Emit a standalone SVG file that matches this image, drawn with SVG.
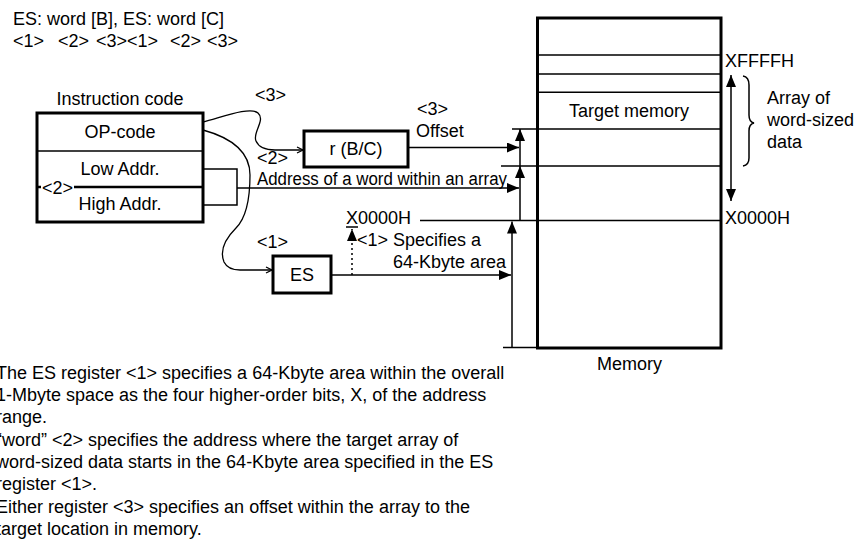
<svg xmlns="http://www.w3.org/2000/svg" width="858" height="542" viewBox="0 0 858 542">
<defs>
<style>
text { font-family: "Liberation Sans", Arial, sans-serif; font-size: 18px; fill: #000; }
.c { text-anchor: middle; }
.box { fill: #fff; stroke: #000; stroke-width: 3; }
.ln { fill: none; stroke: #000; stroke-width: 1.5; }
.thk { fill: none; stroke: #000; stroke-width: 2.5; }
.arr { fill: none; stroke: #000; stroke-width: 1.5; marker-end: url(#ah); }
.crv { fill: none; stroke: #000; stroke-width: 1.3; marker-end: url(#oh); }
</style>
<marker id="ah" markerUnits="userSpaceOnUse" markerWidth="12" markerHeight="10" refX="12" refY="5" orient="auto-start-reverse" viewBox="0 0 12 10"><path d="M0,0 L12,5 L0,10 z" fill="#000"/></marker>
<marker id="oh" markerUnits="userSpaceOnUse" markerWidth="8" markerHeight="8" refX="7" refY="4" orient="auto" viewBox="0 0 8 8"><path d="M1,1 L7,4 L1,7" fill="none" stroke="#000" stroke-width="1.3"/></marker>
</defs>
<rect x="0" y="0" width="858" height="542" fill="#fff"/>

<g id="header">
<text x="13" y="25">ES: word [B], ES: word [C]</text>
<text x="13" y="47">&lt;1&gt;</text>
<text x="58" y="47">&lt;2&gt;</text>
<text x="96" y="47">&lt;3&gt;</text>
<text x="127" y="47">&lt;1&gt;</text>
<text x="170" y="47">&lt;2&gt;</text>
<text x="207" y="47">&lt;3&gt;</text>
</g>

<g id="instruction-code">
<text class="c" x="120" y="105">Instruction code</text>
<rect class="box" x="37" y="113" width="166" height="109"/>
<path class="ln" d="M37,151 L203,151"/>
<path class="thk" d="M37,187 L41,187 M74,187 L203,187"/>
<text class="c" x="120" y="138">OP-code</text>
<text class="c" x="120" y="175">Low Addr.</text>
<text class="c" x="120" y="210">High Addr.</text>
<text x="42" y="193.5">&lt;2&gt;</text>
</g>

<g id="reg-bc">
<rect class="box" x="304" y="131" width="104" height="36"/>
<text class="c" x="356" y="155">r (B/C)</text>
</g>

<g id="reg-es">
<rect class="box" x="273" y="256" width="58" height="37"/>
<text class="c" x="302" y="281">ES</text>
</g>

<g id="memory">
<rect x="537.5" y="18" width="183.5" height="330" fill="#fff" stroke="#000" stroke-width="3"/>
<path class="ln" d="M537.5,55 L721,55 M537.5,74 L721,74 M537.5,92.3 L721,92.3 M537.5,166 L721,166"/>
<path class="ln" d="M537.5,129 L721,129 M537.5,220.5 L721,220.5" stroke-width="2"/>
<text class="c" x="629" y="117">Target memory</text>
<text class="c" x="629.5" y="370">Memory</text>
<text x="725" y="67">XFFFFH</text>
<text x="725" y="224">X0000H</text>
</g>

<g id="connectors">
<path class="ln" d="M203,169 L237,169 L237,205 L203,205"/>
<path class="arr" d="M237,188 L519,188"/>
<path class="arr" d="M408,147.5 L519,147.5"/>
<path class="arr" d="M331,275 L511,275"/>
<path class="ln" d="M512,129 L537.5,129 M501,166 L537.5,166 M420,220.5 L537.5,220.5 M503,347.5 L537.5,347.5"/>
<path class="arr" d="M520,220.5 L520,166"/>
<path class="arr" d="M520,166 L520,129"/>
<path class="arr" d="M512,347.5 L512,221.5"/>
<path class="arr" d="M731,201 L731,75" style="marker-start:url(#ah)"/>
<path class="arr" d="M352,275 L352,229" stroke-dasharray="2,3"/>
<path class="crv" d="M203,122 C220,118 250,106 258,113 C266,120 252,133 256,141 C259,148 266,150 275,150 L303,150"/>
<path class="crv" d="M203,130 C225,136 250,148 250,175 C250,200 246,218 236,228 C224,240 220,252 224,262 C227,268 232,270 240,270 L272,270"/>
<path class="ln" d="M743,76 Q749,77 749,85 L749,115 Q749,122 754,123 Q749,124 749,131 L749,158 Q749,165 743,166"/>
<path class="ln" d="M346,227 L358,227"/>
</g>

<g id="labels">
<text x="255" y="101">&lt;3&gt;</text>
<text x="257" y="164">&lt;2&gt;</text>
<text x="417" y="115">&lt;3&gt;</text>
<text x="416" y="137">Offset</text>
<text x="257" y="185" textLength="250" lengthAdjust="spacingAndGlyphs">Address of a word within an array</text>
<text x="346" y="224">X0000H</text>
<text x="357" y="246">&lt;1&gt; Specifies a</text>
<text x="393" y="268">64-Kbyte area</text>
<text x="257" y="248">&lt;1&gt;</text>
<text x="767" y="104">Array of</text>
<text x="767" y="126">word-sized</text>
<text x="767" y="148">data</text>
</g>

<g id="notes">
<text x="-4" y="379">The ES register &lt;1&gt; specifies a 64-Kbyte area within the overall</text>
<text x="-4" y="401">1-Mbyte space as the four higher-order bits, X, of the address</text>
<text x="-4" y="423">range.</text>
<text x="-4" y="446">“word” &lt;2&gt; specifies the address where the target array of</text>
<text x="-4" y="468">word-sized data starts in the 64-Kbyte area specified in the ES</text>
<text x="-4" y="490">register &lt;1&gt;.</text>
<text x="-4" y="513">Either register &lt;3&gt; specifies an offset within the array to the</text>
<text x="-4" y="535">target location in memory.</text>
</g>
</svg>
